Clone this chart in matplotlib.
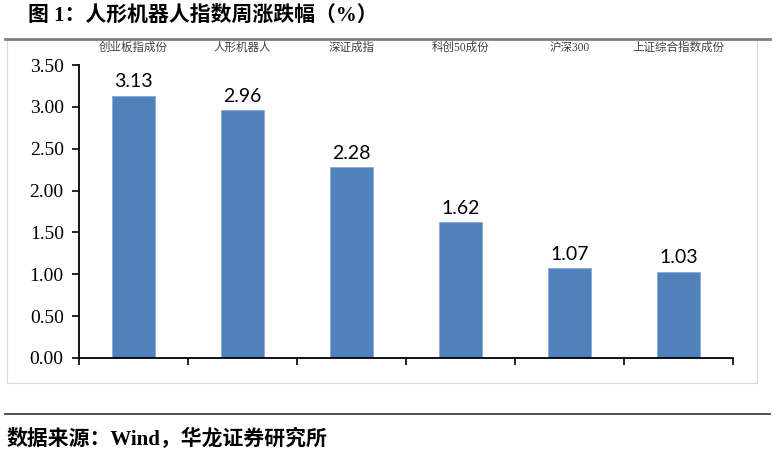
import matplotlib
matplotlib.use("Agg")
import matplotlib.pyplot as plt
import matplotlib.transforms as mtransforms
from matplotlib.lines import Line2D
from matplotlib.patches import Rectangle

categories = ["创业板指成份", "人形机器人", "深证成指", "科创50成份", "沪深300", "上证综合指数成份"]
values = [3.13, 2.96, 2.28, 1.62, 1.07, 1.03]
yticks = [0.0, 0.5, 1.0, 1.5, 2.0, 2.5, 3.0, 3.5]
title = "图 1：人形机器人指数周涨跌幅（%）"
source = "数据来源：Wind，华龙证券研究所"

CJK = "Noto Sans CJK SC"
SERIF_MIX = ["Liberation Serif", CJK]

fig = plt.figure(figsize=(7.76, 4.55), dpi=100)
W, H = 776, 455

def fx(px):
    return px / W

def fy(py):
    return 1 - py / H

# chart area faint border
fig.add_artist(Rectangle((fx(7), fy(383)), fx(757) - fx(7), fy(39) - fy(383),
                         transform=fig.transFigure, fill=False, edgecolor="#d9d9d9", linewidth=0.8))
# top separator line
fig.add_artist(Line2D([fx(5), fx(770)], [fy(39), fy(39)], transform=fig.transFigure,
                      color="#7f7f7f", linewidth=2.0))
# bottom separator line
fig.add_artist(Line2D([fx(5), fx(770)], [fy(414), fy(414)], transform=fig.transFigure,
                      color="#404040", linewidth=1.3))

fig.text(fx(28), fy(16), title, fontsize=15, fontweight="bold", family=SERIF_MIX,
         ha="left", va="center", color="#000000")
fig.text(fx(7), fy(439), source, fontsize=15, fontweight="bold", family=SERIF_MIX,
         ha="left", va="center", color="#000000")

ax = fig.add_axes([fx(79), fy(358), fx(733) - fx(79), fy(65) - fy(358)])
x = list(range(len(categories)))
ax.bar(x, values, width=0.4, color="#4f81bd", edgecolor="#8eaad6", linewidth=0.6, zorder=2)

ax.set_xlim(-0.5, len(categories) - 0.5)
ax.set_ylim(0, 3.5)
ax.set_yticks(yticks)
ax.set_yticklabels([f"{v:.2f}" for v in yticks], family="Liberation Serif", fontsize=14)
ax.set_xticks([i - 0.5 for i in range(len(categories) + 1)])
ax.set_xticklabels([])
ax.tick_params(axis="both", direction="out", length=5, width=1.2, color="#000000")
ax.tick_params(axis="y", pad=6)
for s in ["top", "right"]:
    ax.spines[s].set_visible(False)
for s in ["left", "bottom"]:
    ax.spines[s].set_linewidth(1.3)
    ax.spines[s].set_color("#000000")

for xi, v in zip(x, values):
    ax.annotate(f"{v:.2f}", (xi, v), xytext=(0, 4), textcoords="offset points",
                ha="center", va="bottom", fontsize=14, family="Lato", color="#000000")

label_tr = mtransforms.blended_transform_factory(ax.transData, fig.transFigure)
for xi, c in zip(x, categories):
    ax.text(xi, fy(48), c, transform=label_tr, ha="center", va="center",
            fontsize=8.3, family=SERIF_MIX, color="#404040")

fig.savefig("out.png", dpi=100)
